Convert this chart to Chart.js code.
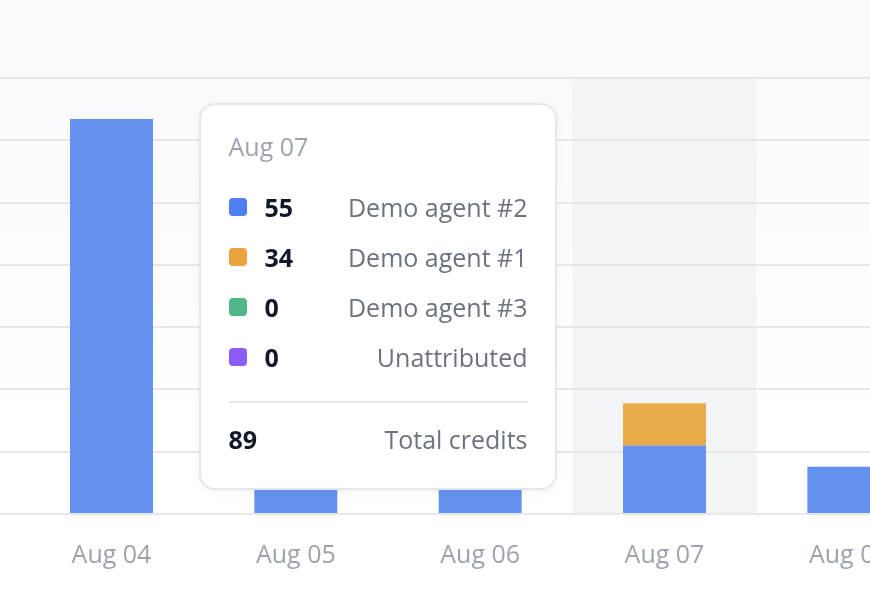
<!DOCTYPE html>
<html>
<head>
<meta charset="utf-8">
<script src="https://cdn.jsdelivr.net/npm/chart.js@4.4.1/dist/chart.umd.min.js"></script>
<style>
  html, body { margin: 0; padding: 0; }
  body {
    width: 870px; height: 606px; overflow: hidden; position: relative;
    background: linear-gradient(#f9fafb 0, #f9fafb 78px, #ffffff 420px);
    font-family: "Open Sans", "DejaVu Sans", sans-serif;
  }
  #wrap { position: absolute; left: -165px; top: 0; width: 1106px; height: 606px; }
  .tt {
    position: absolute; box-sizing: border-box; width: 358px;
    background: #fff; border: 2px solid #e5e7eb; border-radius: 16px;
    box-shadow: 0 2px 8px rgba(17, 24, 39, 0.05);
    padding: 25px 27px 24px 28px; pointer-events: none;
  }
  .tt-title { font-size: 25px; line-height: 32px; color: #9ca3af; }
  .tt-rows { margin-top: 20px; }
  .tt-row { display: flex; align-items: center; height: 50px; }
  .tt-sq { width: 18px; height: 18px; border-radius: 4px; margin-right: 18px; flex: none; }
  .tt-num { font-weight: 700; font-size: 25px; color: #111827; }
  .tt-lab { margin-left: auto; font-size: 25px; color: #6b7280; }
  .tt-div { height: 2px; background: #e5e7eb; margin-top: 19px; }
  .tt-total { margin-top: 11px; }
</style>
</head>
<body>
<div id="wrap"><canvas id="creditsChart"></canvas></div>
<script>
  // chart data
  const days = ['Aug 03', 'Aug 04', 'Aug 05', 'Aug 06', 'Aug 07', 'Aug 08'];
  const agent2 = [140, 317, 120, 95, 55, 38];
  const agent1 = [0, 0, 0, 0, 34, 0];
  const agent3 = [0, 0, 0, 0, 0, 0];
  const unattributed = [0, 0, 0, 0, 0, 0];
  const hoverDay = 'Aug 07';

  const series = [
    { label: 'Demo agent #2', data: agent2, color: '#6491ee', swatch: '#4c7ff0' },
    { label: 'Demo agent #1', data: agent1, color: '#e9ab4a', swatch: '#eba340' },
    { label: 'Demo agent #3', data: agent3, color: '#52b788', swatch: '#52b788' },
    { label: 'Unattributed', data: unattributed, color: '#8b5cf6', swatch: '#8b5cf6' }
  ];

  // grey band behind the hovered day
  const hoverBand = {
    id: 'hoverBand',
    beforeDraw(chart) {
      const active = chart.getActiveElements();
      if (!active.length) return;
      const x = chart.scales.x;
      const area = chart.chartArea;
      const w = x.width / days.length;
      const cx = x.getPixelForValue(active[0].index);
      const ctx = chart.ctx;
      ctx.save();
      ctx.fillStyle = '#f3f4f6';
      ctx.fillRect(cx - w / 2, area.top, w, area.bottom - area.top);
      ctx.restore();
    }
  };

  function externalTooltip(context) {
    const { chart, tooltip } = context;
    let el = document.getElementById('tt');
    if (!el) {
      el = document.createElement('div');
      el.id = 'tt';
      el.className = 'tt';
      document.body.appendChild(el);
    }
    if (tooltip.opacity === 0) { el.style.display = 'none'; return; }
    const points = tooltip.dataPoints;
    let total = 0;
    let rows = '';
    points.forEach(p => {
      const s = series[p.datasetIndex];
      total += p.raw;
      rows += '<div class="tt-row"><span class="tt-sq" style="background:' + s.swatch + '"></span>' +
        '<span class="tt-num">' + p.raw + '</span><span class="tt-lab">' + s.label + '</span></div>';
    });
    el.innerHTML = '<div class="tt-title">' + points[0].label + '</div>' +
      '<div class="tt-rows">' + rows + '</div><div class="tt-div"></div>' +
      '<div class="tt-row tt-total"><span class="tt-num">' + total + '</span><span class="tt-lab">Total credits</span></div>';
    el.style.display = 'block';
    const wrap = document.getElementById('wrap');
    el.style.left = (wrap.offsetLeft + tooltip.caretX - 108 - 358) + 'px';
    el.style.top = (chart.chartArea.top + 25) + 'px';
  }

  const chart = new Chart(document.getElementById('creditsChart'), {
    type: 'bar',
    data: {
      labels: days,
      datasets: series.map(s => ({
        label: s.label,
        data: s.data,
        backgroundColor: s.color,
        hoverBackgroundColor: s.color,
        borderWidth: 0,
        barPercentage: 0.45,
        categoryPercentage: 1
      }))
    },
    options: {
      responsive: true,
      maintainAspectRatio: false,
      animation: false,
      layout: { padding: { top: 78, left: 0, right: 0, bottom: 16 } },
      interaction: { mode: 'index', intersect: false },
      plugins: {
        legend: { display: false },
        tooltip: { enabled: false, external: externalTooltip, mode: 'index' }
      },
      scales: {
        x: {
          stacked: true,
          grid: { display: false },
          border: { display: false },
          ticks: {
            color: '#9ca3af',
            padding: 19,
            font: { family: '"Open Sans", sans-serif', size: 25 }
          }
        },
        y: {
          stacked: true,
          min: 0,
          max: 350,
          border: { display: false },
          grid: { color: '#e5e7eb', lineWidth: 2, drawTicks: false },
          ticks: { display: false, stepSize: 50 }
        }
      }
    },
    plugins: [hoverBand]
  });

  const idx = days.indexOf(hoverDay);
  const active = series.map((s, i) => ({ datasetIndex: i, index: idx }));
  chart.setActiveElements(active);
  chart.tooltip.setActiveElements(active, { x: chart.scales.x.getPixelForValue(idx), y: 300 });
  chart.update();
</script>
</body>
</html>
